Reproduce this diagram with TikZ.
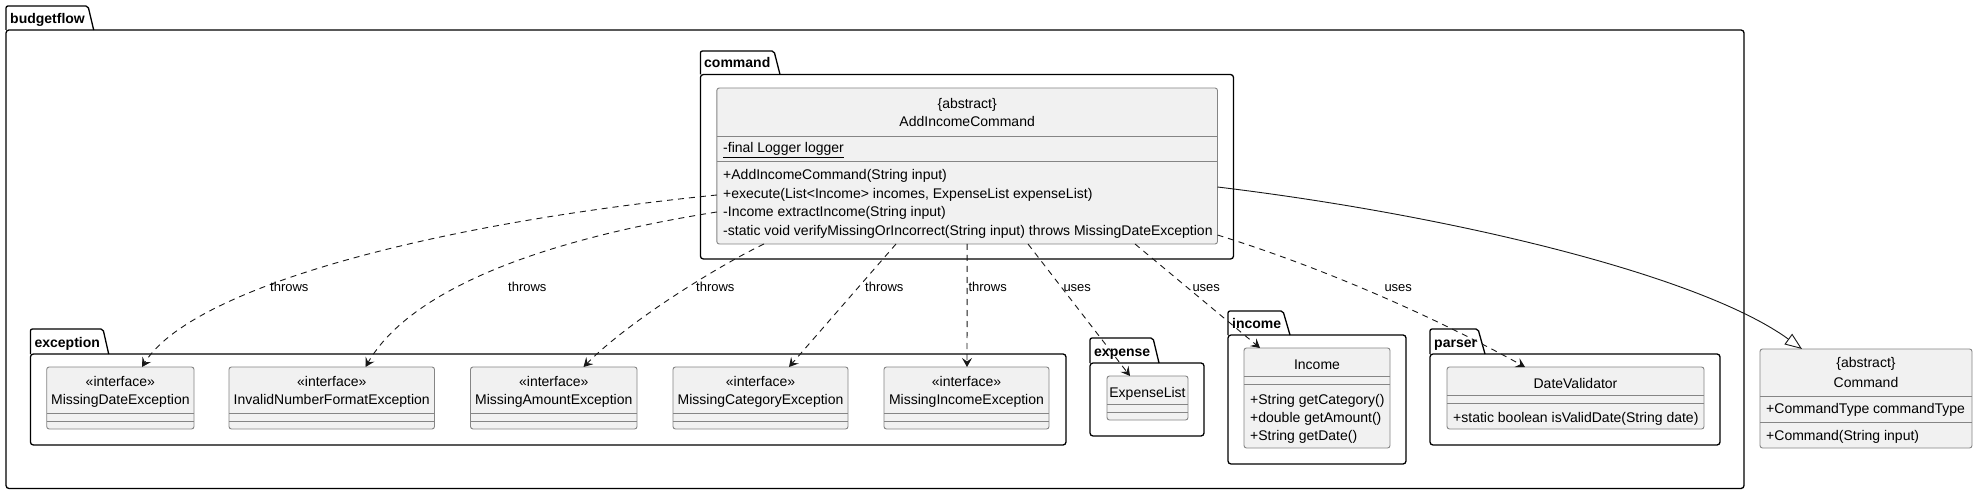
\documentclass[tikz,border=0pt]{standalone}
\usepackage{fontspec}
\setmainfont{Liberation Sans}
\usetikzlibrary{arrows.meta,calc}
\definecolor{clsfill}{HTML}{F1F1F1}
\definecolor{clsline}{HTML}{858585}
\definecolor{ink}{HTML}{181818}
\begin{document}
\begin{tikzpicture}[x=1pt,y=-1pt,
  cls/.style={draw=clsline, fill=clsfill, line width=0.9pt, rounded corners=2.5pt, inner sep=0pt, outer sep=0pt, anchor=north west},
  pkg/.style={draw=black, line width=1.3pt, rounded corners=3pt, inner sep=0pt, outer sep=0pt, anchor=north west},
  pkgtab/.style={draw=black, line width=1.3pt, rounded corners=2pt},
  pkgname/.style={font=\bfseries\fontsize{14}{16}\selectfont, anchor=base west, inner sep=0pt},
  txt/.style={font=\fontsize{14}{16}\selectfont, inner sep=0pt, anchor=base},
  mem/.style={txt, anchor=base west},
  lbl/.style={font=\fontsize{13}{15}\selectfont, inner sep=0pt, anchor=base west},
  sepline/.style={draw=clsline, line width=0.9pt},
  dep/.style={draw=ink, line width=0.9pt, dash pattern=on 6pt off 5pt, -{Stealth[length=9pt,width=10pt,inset=3.5pt]}},
  gen/.style={draw=ink, line width=0.9pt, -{Triangle[open,length=17pt,width=13pt,fill=white]}}
]
\fill[white] (0,0) rectangle (1978,494);
\useasboundingbox (0,0) rectangle (1978,494);

% ---------- packages ----------
\node[pkg, minimum width=1738pt, minimum height=458.5pt] (pbud) at (6,30) {};
\draw[pkgtab] (pbud.north west) -- ++(0,-24) -- ++(82,0) -- ++(5.7,24);
\node[pkgname] (nbud) at (10,23.5) {budgetflow};

\node[pkg, minimum width=533.1pt, minimum height=184.5pt] (pcmd) at (700.4,74.5) {};
\draw[pkgtab] (pcmd.north west) -- ++(0,-23.5) -- ++(73.6,0) -- ++(6,23.5);
\node[pkgname] (ncmd) at (704,68) {command};

\node[pkg, minimum width=1035.6pt, minimum height=91pt] (pexc) at (30.4,354) {};
\draw[pkgtab] (pexc.north west) -- ++(0,-25) -- ++(72.6,0) -- ++(5.7,25);
\node[pkgname] (nexc) at (34.4,347.5) {exception};

\node[pkg, minimum width=114pt, minimum height=73pt] (pexp) at (1090,363) {};
\draw[pkgtab] (pexp.north west) -- ++(0,-25) -- ++(63,0) -- ++(6,25);
\node[pkgname] (nexp) at (1094,356.5) {expense};

\node[pkg, minimum width=178pt, minimum height=129pt] (pinc) at (1228,335) {};
\draw[pkgtab] (pinc.north west) -- ++(0,-24) -- ++(55,0) -- ++(7,24);
\node[pkgname] (ninc) at (1232,328.5) {income};

\node[pkg, minimum width=290pt, minimum height=91pt] (ppar) at (1430,354) {};
\draw[pkgtab] (ppar.north west) -- ++(0,-25) -- ++(48,0) -- ++(7,25);
\node[pkgname] (npar) at (1434,347.5) {parser};

% ---------- AddIncomeCommand ----------
\node[cls, minimum width=500.7pt, minimum height=156pt] (aic) at (716.8,88) {};
\draw[sepline] (716.8,136) -- (1217.5,136);
\draw[sepline] (716.8,161.7) -- (1217.5,161.7);
\node[txt] (aicst) at (967.15,109) {\{abstract\}};
\node[txt] (aicnm) at (967.15,127) {AddIncomeCommand};
\node[mem] (aicf1) at (723,153) {\underline{-final Logger logger}};
\node[mem] (aicm1) at (723,180) {+AddIncomeCommand(String input)};
\node[mem] (aicm2) at (723,198.5) {+execute(List<Income> incomes, ExpenseList expenseList)};
\node[mem] (aicm3) at (723,217) {-Income extractIncome(String input)};
\node[mem] (aicm4) at (723,235.5) {-static void verifyMissingOrIncorrect(String input) throws MissingDateException};

% ---------- exceptions ----------
\node[cls, minimum width=147.3pt, minimum height=62pt] (e1) at (46.7,367) {};
\draw[sepline] (46.7,413) -- (194,413);
\draw[sepline] (46.7,421) -- (194,421);
\node[txt] (e1s) at (120.35,386) {«interface»};
\node[txt] (e1n) at (120.35,404) {MissingDateException};

\node[cls, minimum width=205.5pt, minimum height=62pt] (e2) at (229,367) {};
\draw[sepline] (229,413) -- (434.5,413);
\draw[sepline] (229,421) -- (434.5,421);
\node[txt] (e2s) at (331.75,386) {«interface»};
\node[txt] (e2n) at (331.75,404) {InvalidNumberFormatException};

\node[cls, minimum width=166.5pt, minimum height=62pt] (e3) at (470.5,367) {};
\draw[sepline] (470.5,413) -- (637,413);
\draw[sepline] (470.5,421) -- (637,421);
\node[txt] (e3s) at (553.75,386) {«interface»};
\node[txt] (e3n) at (553.75,404) {MissingAmountException};

\node[cls, minimum width=175pt, minimum height=62pt] (e4) at (673,367) {};
\draw[sepline] (673,413) -- (848,413);
\draw[sepline] (673,421) -- (848,421);
\node[txt] (e4s) at (760.5,386) {«interface»};
\node[txt] (e4n) at (760.5,404) {MissingCategoryException};

\node[cls, minimum width=165pt, minimum height=62pt] (e5) at (884,367) {};
\draw[sepline] (884,413) -- (1049,413);
\draw[sepline] (884,421) -- (1049,421);
\node[txt] (e5s) at (966.5,386) {«interface»};
\node[txt] (e5n) at (966.5,404) {MissingIncomeException};

% ---------- ExpenseList ----------
\node[cls, minimum width=81pt, minimum height=44pt] (expl) at (1107,376) {};
\draw[sepline] (1107,404) -- (1188,404);
\draw[sepline] (1107,412) -- (1188,412);
\node[txt] (expln) at (1147.5,397) {ExpenseList};

% ---------- Income ----------
\node[cls, minimum width=146pt, minimum height=100pt] (inc) at (1244,348) {};
\draw[sepline] (1244,376) -- (1390,376);
\draw[sepline] (1244,384) -- (1390,384);
\node[txt] (incn) at (1317,369) {Income};
\node[mem] (incm1) at (1250,404) {+String getCategory()};
\node[mem] (incm2) at (1250,422) {+double getAmount()};
\node[mem] (incm3) at (1250,440) {+String getDate()};

% ---------- DateValidator ----------
\node[cls, minimum width=257pt, minimum height=62pt] (dv) at (1447,367) {};
\draw[sepline] (1447,395) -- (1704,395);
\draw[sepline] (1447,403) -- (1704,403);
\node[txt] (dvn) at (1575.5,388) {DateValidator};
\node[mem] (dvm1) at (1453,422) {+static boolean isValidDate(String date)};

% ---------- Command ----------
\node[cls, minimum width=212pt, minimum height=99pt] (cmd) at (1760,349) {};
\draw[sepline] (1760,396) -- (1972,396);
\draw[sepline] (1760,422) -- (1972,422);
\node[txt] (cmds) at (1866,367) {\{abstract\}};
\node[txt] (cmdn) at (1866,387) {Command};
\node[mem] (cmdf) at (1766,413) {+CommandType commandType};
\node[mem] (cmdm) at (1766,440) {+Command(String input)};

% ---------- connectors ----------
\draw[dep] ($(aic.north west)+(0,107)$) .. controls (420,225) and (190,290) .. ($(e1.north west)+(95.3,0)$);
\draw[dep] ($(aic.north west)+(0,124)$) .. controls (540,240) and (410,290) .. ($(e2.north west)+(136.5,0)$);
\draw[dep] ($(aic.south west)+(47.2,0)$) .. controls (720,265) and (630,320) .. ($(e3.north west)+(113,0)$);
\draw[dep] ($(aic.south west)+(179.2,0)$) -- ($(e4.north west)+(116,0)$);
\draw[dep] (aic.south) -- ($(e5.north west)+(83,0)$);
\draw[dep] ($(aic.south west)+(311.2,0)$) -- ($(expl.north west)+(23,0)$);
\draw[dep] ($(aic.south west)+(418.2,0)$) -- ($(inc.north west)+(16,0)$);
\draw[dep] ($(aic.north east)+(0,147)$) .. controls (1330,270) and (1440,320) .. ($(dv.north west)+(78,0)$);
\draw[gen] ($(aic.north east)+(0,99)$) .. controls (1450,215) and (1700,275) .. ($(cmd.north west)+(42,0)$);

\node[lbl] (l1) at (270,291.5) {throws};
\node[lbl] (l2) at (508,291.5) {throws};
\node[lbl] (l3) at (696,291.5) {throws};
\node[lbl] (l4) at (865,291.5) {throws};
\node[lbl] (l5) at (968.3,291.5) {throws};
\node[lbl] (l6) at (1063.3,291.5) {uses};
\node[lbl] (l7) at (1192.3,291.5) {uses};
\node[lbl] (l8) at (1384.3,291.5) {uses};
\end{tikzpicture}
\end{document}
